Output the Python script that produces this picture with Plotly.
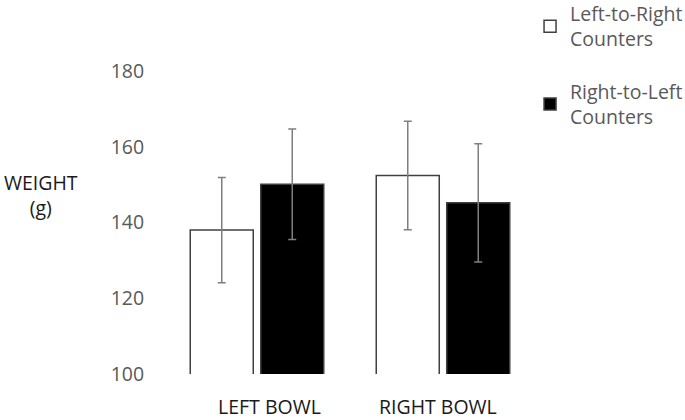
import plotly.graph_objects as go

categories = ["LEFT BOWL", "RIGHT BOWL"]
series_names = ["Left-to-Right<br>Counters", "Right-to-Left<br>Counters"]
ltr_values = [138.0, 152.4]
ltr_errors = [13.9, 14.3]
rtl_values = [150.1, 145.2]
rtl_errors = [14.6, 15.6]
y_ticks = [100, 120, 140, 160, 180]

FONT = "Open Sans"
GRAY = "#595959"
DARK = "#1a1a1a"
SIZE = 19.5

fig = go.Figure()
fig.add_trace(go.Bar(
    x=categories, y=ltr_values, name=series_names[0], legendgroup="a",
    marker=dict(color="white", line=dict(color="#404040", width=1.5)),
    error_y=dict(type="data", array=ltr_errors, color="#7f7f7f", thickness=1.5, width=4),
))
fig.add_trace(go.Bar(
    x=categories, y=rtl_values, name=series_names[1], legendgroup="b",
    marker=dict(color="black", line=dict(color="#404040", width=1.5)),
    error_y=dict(type="data", array=rtl_errors, color="#7f7f7f", thickness=1.5, width=4),
))

label_shifts = [12, -5]
annotations = [dict(text="WEIGHT<br>(g)", xref="paper", yref="paper",
                    x=-0.331, y=0.59, xanchor="center", yanchor="middle",
                    showarrow=False, font=dict(family=FONT, size=SIZE, color=DARK))]
for cat, sh in zip(categories, label_shifts):
    annotations.append(dict(text=cat, xref="x", yref="paper", x=cat, y=0,
                            xanchor="center", yanchor="middle", xshift=sh, yshift=-32,
                            showarrow=False, font=dict(family=FONT, size=SIZE, color=DARK)))

fig.update_layout(
    width=685, height=420,
    margin=dict(l=164, r=149, t=71, b=46, autoexpand=False),
    paper_bgcolor="white", plot_bgcolor="white",
    barmode="group", bargap=0.242, bargroupgap=0.106,
    font=dict(family=FONT, size=SIZE, color=GRAY),
    showlegend=True,
    legend=dict(x=0.984, y=1.253, xanchor="left", yanchor="top",
                traceorder="grouped", tracegroupgap=24,
                font=dict(family=FONT, size=SIZE, color=GRAY),
                itemwidth=30, bgcolor="rgba(0,0,0,0)"),
    xaxis=dict(showline=False, showgrid=False, zeroline=False, showticklabels=False),
    yaxis=dict(range=[100, 180], tickvals=y_ticks, showline=False, showgrid=False,
               zeroline=False, ticks="outside", ticklen=15, tickcolor="rgba(0,0,0,0)",
               tickfont=dict(family=FONT, size=SIZE, color=GRAY)),
    annotations=annotations,
)

fig.write_html("out.html", config={"displayModeBar": False},
               post_script="document.body.style.margin='0';")
